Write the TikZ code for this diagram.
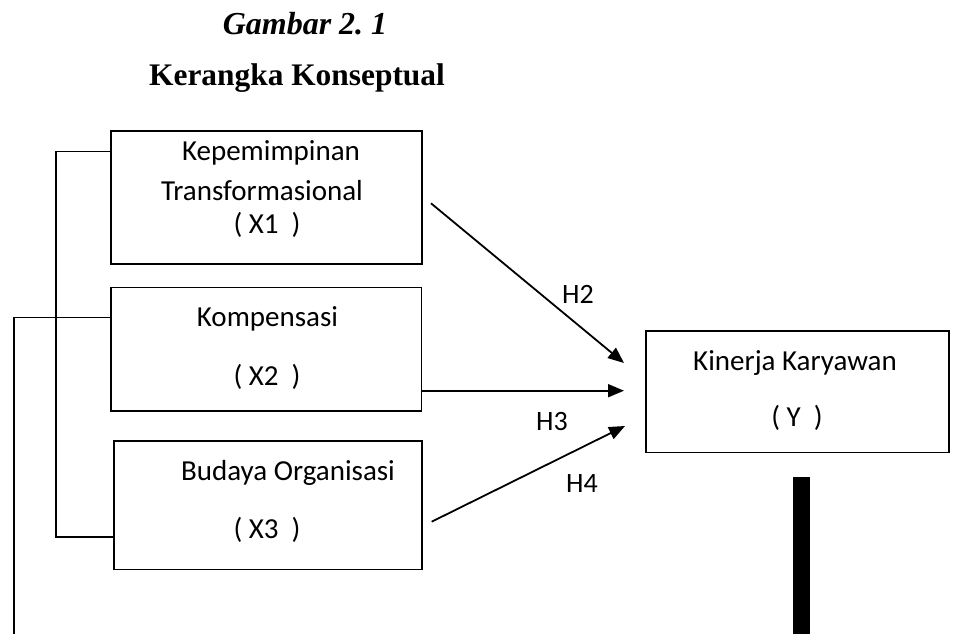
\documentclass[tikz,border=0pt]{standalone}
\usepackage{fontspec}
\setmainfont{Liberation Serif}
\newfontfamily\boxfont{Carlito}
\usetikzlibrary{arrows.meta}
\tikzset{
  box/.style={draw, line width=1.6pt, inner sep=0pt},
  txt/.style={anchor=base, inner sep=0pt, font=\boxfont\fontsize{29}{34}\selectfont},
  htxt/.style={anchor=base, inner sep=0pt, font=\boxfont\fontsize{28}{33}\selectfont},
  hyp/.style={-{Triangle[length=16pt,width=13pt]}, line width=1.8pt},
  link/.style={line width=1.4pt}
}
\begin{document}
\begin{tikzpicture}[x=1pt,y=-1pt]
      \useasboundingbox (0,0) rectangle (955,634);
      % titles
      \node[anchor=base, inner sep=0pt, font=\fontsize{32}{38}\selectfont\bfseries\itshape] (judul) at (305,35) {Gambar 2.\ 1};
      \node[anchor=base, inner sep=0pt, font=\fontsize{31.4}{37}\selectfont\bfseries] (subjudul) at (297,85) {Kerangka Konseptual};
      % boxes
      \node[box, minimum width=310.7pt, minimum height=133.3pt] (x1) at (266.35,197.35) {};
      \node[box, minimum width=310.5pt, minimum height=123.7pt] (x2) at (266.25,349.15) {};
      \node[box, minimum width=308pt, minimum height=128.6pt] (x3) at (267.7,505) {};
      \node[box, minimum width=303pt, minimum height=121.6pt] (y) at (797.5,391.5) {};
      \node[fill=black, inner sep=0pt, minimum width=16.7pt, minimum height=157.3pt] (bar) at (801.65,555.35) {};
      % box texts
      \node[txt] (x1a) at (271,160) {Kepemimpinan};
      \node[txt] (x1b) at (262,200) {Transformasional};
      \node[txt] (x1c) at (267,233.3) {( X1~~)};
      \node[txt] (x2a) at (267.5,326.7) {Kompensasi};
      \node[txt] (x2b) at (267,385) {( X2~~)};
      \node[txt] (x3a) at (288,480) {Budaya Organisasi};
      \node[txt] (x3b) at (267,538.3) {( X3~~)};
      \node[txt] (ya) at (795,370) {Kinerja Karyawan};
      \node[txt] (yb) at (797,426.7) {( Y~~)};
      % hypotheses
      \node[htxt] (h2) at (578,303) {H2};
      \node[htxt] (h3) at (552,430.7) {H3};
      \node[htxt] (h4) at (582,492.7) {H4};
      \coordinate (s2) at (431,203.3);
      \coordinate (s4) at (431.7,521.7);
      \coordinate (t2) at (624,363);
      \coordinate (t3) at (624,390.7);
      \coordinate (t4) at (625,426);
      \draw[hyp] (s2) -- (t2);
      \draw[hyp] (x2.east |- t3) -- (t3);
      \draw[hyp] (s4) -- (t4);
      % side lines
      \coordinate (b1) at (56,151.7);
      \coordinate (b2) at (56,537);
      \coordinate (o1) at (14,317.7);
      \coordinate (o2) at (14,634);
      \draw[link] (x1.west |- b1) -- (b1) -- (b2) -- (x3.west |- b2);
      \draw[link] (x2.west |- o1) -- (o1) -- (o2);
    \end{tikzpicture}
\end{document}
